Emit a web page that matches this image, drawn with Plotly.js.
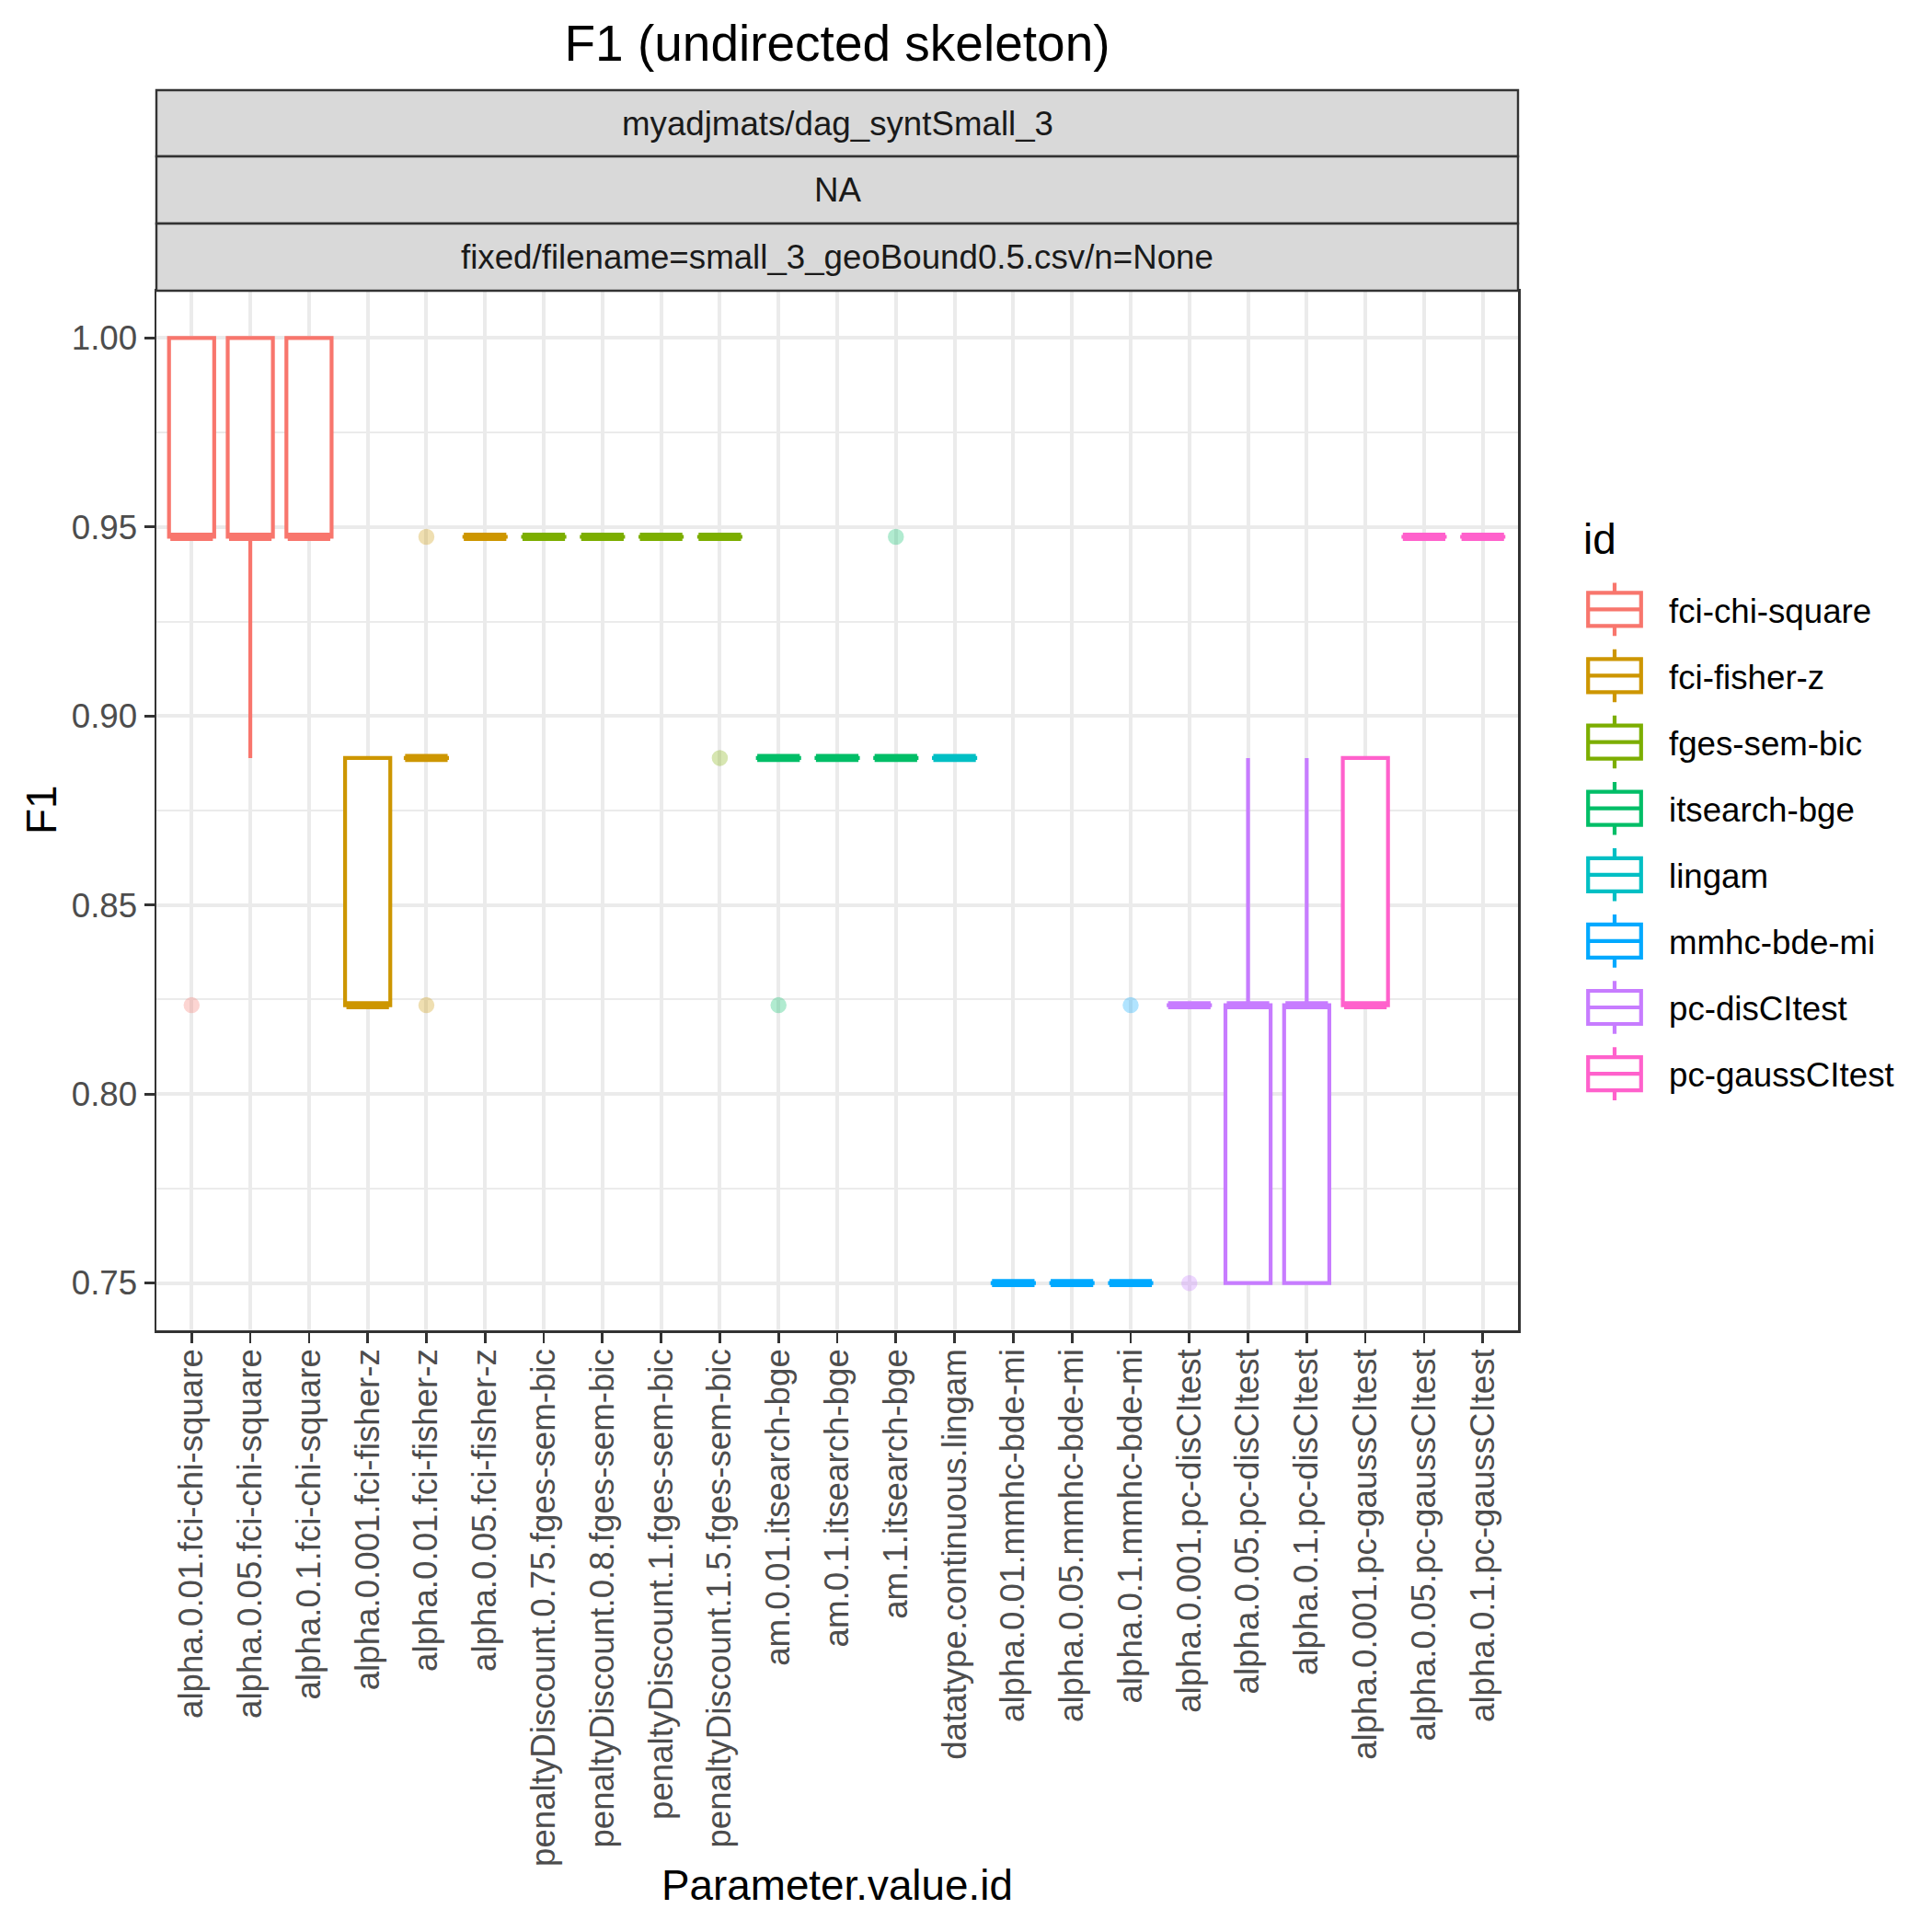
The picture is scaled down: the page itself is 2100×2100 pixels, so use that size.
<!DOCTYPE html>
<html>
<head>
<meta charset="utf-8">
<script src="https://cdn.plot.ly/plotly-3.0.1.min.js"></script>
<style>
  html, body { margin: 0; padding: 0; background: #ffffff; }
  #chart { width: 2100px; height: 2100px; }
</style>
</head>
<body>
<div id="chart"></div>
<script>
// ---------- data ----------
const categories = [
  "alpha.0.01.fci-chi-square", "alpha.0.05.fci-chi-square", "alpha.0.1.fci-chi-square",
  "alpha.0.001.fci-fisher-z", "alpha.0.01.fci-fisher-z", "alpha.0.05.fci-fisher-z",
  "penaltyDiscount.0.75.fges-sem-bic", "penaltyDiscount.0.8.fges-sem-bic",
  "penaltyDiscount.1.fges-sem-bic", "penaltyDiscount.1.5.fges-sem-bic",
  "am.0.01.itsearch-bge", "am.0.1.itsearch-bge", "am.1.itsearch-bge",
  "datatype.continuous.lingam",
  "alpha.0.01.mmhc-bde-mi", "alpha.0.05.mmhc-bde-mi", "alpha.0.1.mmhc-bde-mi",
  "alpha.0.001.pc-disCItest", "alpha.0.05.pc-disCItest", "alpha.0.1.pc-disCItest",
  "alpha.0.001.pc-gaussCItest", "alpha.0.05.pc-gaussCItest", "alpha.0.1.pc-gaussCItest"
];
const categoryId = [
  "fci-chi-square", "fci-chi-square", "fci-chi-square",
  "fci-fisher-z", "fci-fisher-z", "fci-fisher-z",
  "fges-sem-bic", "fges-sem-bic", "fges-sem-bic", "fges-sem-bic",
  "itsearch-bge", "itsearch-bge", "itsearch-bge",
  "lingam",
  "mmhc-bde-mi", "mmhc-bde-mi", "mmhc-bde-mi",
  "pc-disCItest", "pc-disCItest", "pc-disCItest",
  "pc-gaussCItest", "pc-gaussCItest", "pc-gaussCItest"
];
const ids = ["fci-chi-square", "fci-fisher-z", "fges-sem-bic", "itsearch-bge",
             "lingam", "mmhc-bde-mi", "pc-disCItest", "pc-gaussCItest"];
const idColors = ["#F8766D", "#CD9600", "#7CAE00", "#00BE67",
                  "#00BFC4", "#00A9FF", "#C77CFF", "#FF61CC"];

const lowerWhisker = [0.9474, 0.8889, 0.9474, 0.8235, 0.8889, 0.9474, 0.9474, 0.9474, 0.9474, 0.9474,
                      0.8889, 0.8889, 0.8889, 0.8889, 0.75, 0.75, 0.75, 0.8235, 0.75, 0.75,
                      0.8235, 0.9474, 0.9474];
const q1Values     = [0.9474, 0.9474, 0.9474, 0.8235, 0.8889, 0.9474, 0.9474, 0.9474, 0.9474, 0.9474,
                      0.8889, 0.8889, 0.8889, 0.8889, 0.75, 0.75, 0.75, 0.8235, 0.75, 0.75,
                      0.8235, 0.9474, 0.9474];
const medianValues = [0.9474, 0.9474, 0.9474, 0.8235, 0.8889, 0.9474, 0.9474, 0.9474, 0.9474, 0.9474,
                      0.8889, 0.8889, 0.8889, 0.8889, 0.75, 0.75, 0.75, 0.8235, 0.8235, 0.8235,
                      0.8235, 0.9474, 0.9474];
const q3Values     = [1.0, 1.0, 1.0, 0.8889, 0.8889, 0.9474, 0.9474, 0.9474, 0.9474, 0.9474,
                      0.8889, 0.8889, 0.8889, 0.8889, 0.75, 0.75, 0.75, 0.8235, 0.8235, 0.8235,
                      0.8889, 0.9474, 0.9474];
const upperWhisker = [1.0, 1.0, 1.0, 0.8889, 0.8889, 0.9474, 0.9474, 0.9474, 0.9474, 0.9474,
                      0.8889, 0.8889, 0.8889, 0.8889, 0.75, 0.75, 0.75, 0.8235, 0.8889, 0.8889,
                      0.8889, 0.9474, 0.9474];

const outlierCategory = ["alpha.0.01.fci-chi-square", "alpha.0.01.fci-fisher-z", "alpha.0.01.fci-fisher-z",
                         "penaltyDiscount.1.5.fges-sem-bic", "am.0.01.itsearch-bge", "am.1.itsearch-bge",
                         "alpha.0.1.mmhc-bde-mi", "alpha.0.001.pc-disCItest"];
const outlierValue = [0.8235, 0.9474, 0.8235, 0.8889, 0.8235, 0.9474, 0.8235, 0.75];

const stripLabels = ["myadjmats/dag_syntSmall_3", "NA", "fixed/filename=small_3_geoBound0.5.csv/n=None"];
const yTicks = [0.75, 0.80, 0.85, 0.90, 0.95, 1.00];

// ---------- build traces ----------
const FONT = "Liberation Sans, Arial, Helvetica, sans-serif";
const BOX_WIDTH = 0.77;
const traces = [];
ids.forEach((id, k) => {
  const idx = categories.map((c, i) => i).filter(i => categoryId[i] === id);
  const col = idColors[k];
  traces.push({
    type: "box",
    name: id,
    legendgroup: id,
    x: idx.map(i => categories[i]),
    q1: idx.map(i => q1Values[i]),
    median: idx.map(i => medianValues[i]),
    q3: idx.map(i => q3Values[i]),
    lowerfence: idx.map(i => lowerWhisker[i]),
    upperfence: idx.map(i => upperWhisker[i]),
    boxpoints: false,
    width: BOX_WIDTH,
    whiskerwidth: 0,
    line: { color: col, width: 4.2 },
    fillcolor: "#ffffff",
    hoverinfo: "skip"
  });
  // fattened median line (ggplot fatten = 2)
  traces.push({
    type: "scatter",
    mode: "markers",
    legendgroup: id,
    showlegend: false,
    x: idx.map(i => categories[i]),
    y: idx.map(i => medianValues[i]),
    marker: { symbol: "line-ew", size: 33, color: col, line: { color: col, width: 8.8 } },
    hoverinfo: "skip"
  });
  // outliers
  const oi = outlierCategory.map((c, j) => j).filter(j => categoryId[categories.indexOf(outlierCategory[j])] === id);
  if (oi.length) {
    traces.push({
      type: "scatter",
      mode: "markers",
      legendgroup: id,
      showlegend: false,
      x: oi.map(j => outlierCategory[j]),
      y: oi.map(j => outlierValue[j]),
      marker: { symbol: "circle", size: 16, color: col, opacity: 0.3, line: { color: col, width: 1.5 } },
      hoverinfo: "skip"
    });
  }
});

// ---------- layout ----------
const W = 2100, H = 2100;
const mL = 170, mR = 450, mT = 316, mB = 654;
const plotH = H - mT - mB;
const py = (pix) => (H - mB - pix) / plotH;   // pixel y -> paper y
const px = (pix) => (pix - mL) / (W - mL - mR);

const stripBounds = [[98, 170], [170, 243], [243, 316]];
const shapes = stripBounds.map(b => ({
  type: "rect", xref: "paper", yref: "paper",
  x0: 0, x1: 1, y0: py(b[1]), y1: py(b[0]),
  fillcolor: "#D9D9D9", line: { color: "#333333", width: 2.4 }, layer: "above"
}));
const annotations = stripLabels.map((t, i) => ({
  text: t, xref: "paper", yref: "paper", x: 0.5,
  y: py((stripBounds[i][0] + stripBounds[i][1]) / 2),
  xanchor: "center", yanchor: "middle", showarrow: false,
  font: { family: FONT, size: 36.7, color: "#1A1A1A" }
}));
annotations.push({
  text: "Parameter.value.id", xref: "paper", yref: "paper", x: 0.5, y: py(2049),
  xanchor: "center", yanchor: "middle", showarrow: false,
  font: { family: FONT, size: 45.8, color: "#000000" }
});
annotations.push({
  text: "F1", xref: "paper", yref: "paper", x: px(45), y: 0.5, textangle: -90,
  xanchor: "center", yanchor: "middle", showarrow: false,
  font: { family: FONT, size: 45.8, color: "#000000" }
});
// legend title
annotations.push({
  text: "id", xref: "paper", yref: "paper", x: px(1719), y: py(586),
  xanchor: "left", yanchor: "middle", showarrow: false,
  font: { family: FONT, size: 45.8, color: "#000000" }
});

const layout = {
  width: W, height: H,
  margin: { l: mL, r: mR, t: mT, b: mB, pad: 0 },
  paper_bgcolor: "#ffffff", plot_bgcolor: "#ffffff",
  font: { family: FONT, color: "#000000" },
  boxmode: "overlay",
  title: {
    text: "F1 (undirected skeleton)",
    font: { family: FONT, size: 55, color: "#000000" },
    x: 0.5, xref: "paper", xanchor: "center",
    y: 1 - 47 / H, yref: "container", yanchor: "middle"
  },
  xaxis: {
    type: "category", categoryorder: "array", categoryarray: categories,
    range: [-0.6, categories.length - 1 + 0.6],
    showgrid: true, gridcolor: "#EBEBEB", gridwidth: 4,
    showline: true, linecolor: "#333333", linewidth: 2.5, mirror: true,
    ticks: "outside", ticklen: 11, tickwidth: 2.7, tickcolor: "#333333",
    ticklabelstandoff: -8,
    tickangle: -90, tickfont: { family: FONT, size: 36.7, color: "#4D4D4D" },
    zeroline: false, automargin: false
  },
  yaxis: {
    range: [0.7375, 1.0125],
    tickmode: "array", tickvals: yTicks, ticktext: yTicks.map(v => v.toFixed(2)),
    showgrid: true, gridcolor: "#EBEBEB", gridwidth: 4,
    minor: { tickmode: "array", tickvals: [0.775, 0.825, 0.875, 0.925, 0.975], showgrid: true, gridcolor: "#EBEBEB", gridwidth: 2, ticks: "" },
    showline: true, linecolor: "#333333", linewidth: 2.5, mirror: true,
    ticks: "outside", ticklen: 11, tickwidth: 2.7, tickcolor: "#333333",
    tickfont: { family: FONT, size: 36.7, color: "#4D4D4D" },
    zeroline: false, automargin: false
  },
  showlegend: true,
  legend: {
    x: px(1696), y: py(632), xanchor: "left", yanchor: "top",
    font: { family: FONT, size: 36.7, color: "#000000" },
    traceorder: "grouped", tracegroupgap: 21.4,
    itemwidth: 108, bgcolor: "rgba(0,0,0,0)", borderwidth: 0
  },
  shapes: shapes,
  annotations: annotations
};

Plotly.newPlot("chart", traces, layout, { staticPlot: true, displayModeBar: false }).then(gd => {
  // draw ggplot-style boxplot keys in the legend
  gd.querySelectorAll(".legend path.legendbox").forEach(p => {
    p.setAttribute("d", "M-28.8,-18H28.8V18H-28.8Z M-28.8,0H28.8 M0,-18V-28.8 M0,18V28.8");
    p.style.strokeWidth = "4.2px";
    p.style.fill = "#ffffff";
    p.style.fillOpacity = "1";
  });
});
</script>
</body>
</html>
